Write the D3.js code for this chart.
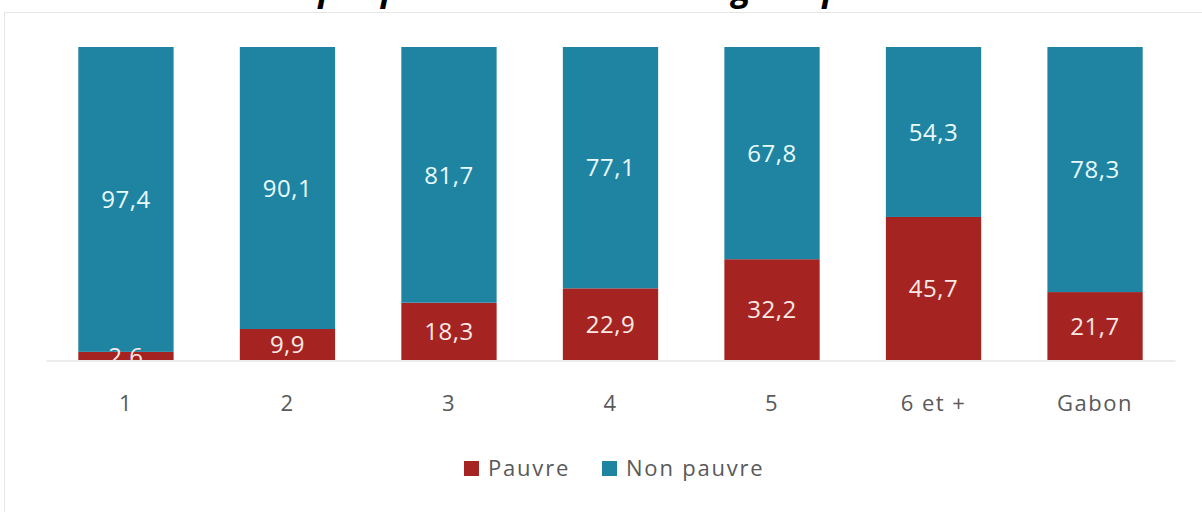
<!DOCTYPE html>
<html><head><meta charset="utf-8">
<script src="https://cdn.jsdelivr.net/npm/d3@7"></script>
<style>body{margin:0;background:#fff;}svg{display:block;}</style>
</head><body>
<script>
const categories = ["1","2","3","4","5","6 et +","Gabon"];
const pauvre = [2.6, 9.9, 18.3, 22.9, 32.2, 45.7, 21.7];
const nonPauvre = [97.4, 90.1, 81.7, 77.1, 67.8, 54.3, 78.3];
const seriesNames = ["Pauvre","Non pauvre"];
const colors = ["#A52421","#1F84A2"];
const title = "Graphique 6 : Taille du ménage et pauvreté";

const W = 1202, H = 512;
const svg = d3.select("body").append("svg").attr("width", W).attr("height", H);
const font = "'Open Sans', 'Noto Sans', sans-serif";

// frame
svg.append("rect").attr("x",4.5).attr("y",12.5).attr("width",W).attr("height",H)
  .attr("fill","#fff").attr("stroke","#e6e6e6");

// title (cut off at the top, as in the source)
svg.append("text").attr("x",615).attr("y",0).attr("text-anchor","middle")
  .attr("font-family",font).attr("font-weight","bold").attr("font-style","italic")
  .attr("font-size",35).attr("fill","#000").text(title);

const x = d3.scaleBand().domain(categories).range([46,1175]).paddingInner(0.41).paddingOuter(0.2);
const y = d3.scaleLinear().domain([0,100]).range([360,47]);

const data = categories.map((c,i)=>({cat:c, Pauvre:pauvre[i], "Non pauvre":nonPauvre[i]}));
const stack = d3.stack().keys(seriesNames)(data);

svg.append("defs").append("clipPath").attr("id","plotclip")
  .append("rect").attr("x",0).attr("y",0).attr("width",W).attr("height",360);

const g = svg.append("g");
stack.forEach((s,si)=>{
  g.selectAll(null).data(s).enter().append("rect")
    .attr("x",d=>x(d.data.cat)).attr("width",x.bandwidth())
    .attr("y",d=>y(d[1])).attr("height",d=>y(d[0])-y(d[1]))
    .attr("fill",colors[si]);
});

// axis line
const xAxis = d3.axisBottom(x).tickSize(0).tickPadding(0);
const ax = svg.append("g").attr("transform","translate(0,360.5)").call(xAxis);
ax.select(".domain").attr("stroke","#d9d9d9").attr("stroke-width",1);
ax.selectAll("text").attr("font-family",font).attr("font-size",22).attr("fill","#595959")
  .attr("dy",0).attr("y",50).style("letter-spacing","1.5px");

// value labels
const lg = svg.append("g").attr("clip-path","url(#plotclip)");
stack.forEach((s,si)=>{
  lg.selectAll(null).data(s).enter().append("text")
    .attr("x",d=>x(d.data.cat)+x.bandwidth()/2)
    .attr("y",d=>(y(d[0])+y(d[1]))/2)
    .attr("dy","0.36em").attr("text-anchor","middle")
    .attr("font-family",font).attr("font-size",24)
    .style("letter-spacing","0.5px")
    .attr("fill", si===0 ? "#fbe9e7" : "#e9fbff")
    .text(d=>d3.format(".1f")(d[1]-d[0]).replace(".",","));
});

// legend
const legend = svg.append("g");
const legX = [464, 602];
seriesNames.forEach((n,i)=>{
  legend.append("rect").attr("x",legX[i]).attr("y",461).attr("width",15).attr("height",15).attr("fill",colors[i]);
  legend.append("text").attr("x",legX[i]+24).attr("y",476).attr("font-family",font)
    .attr("font-size",22).attr("fill","#595959").style("letter-spacing","1.8px").text(n);
});
</script>
</body></html>
